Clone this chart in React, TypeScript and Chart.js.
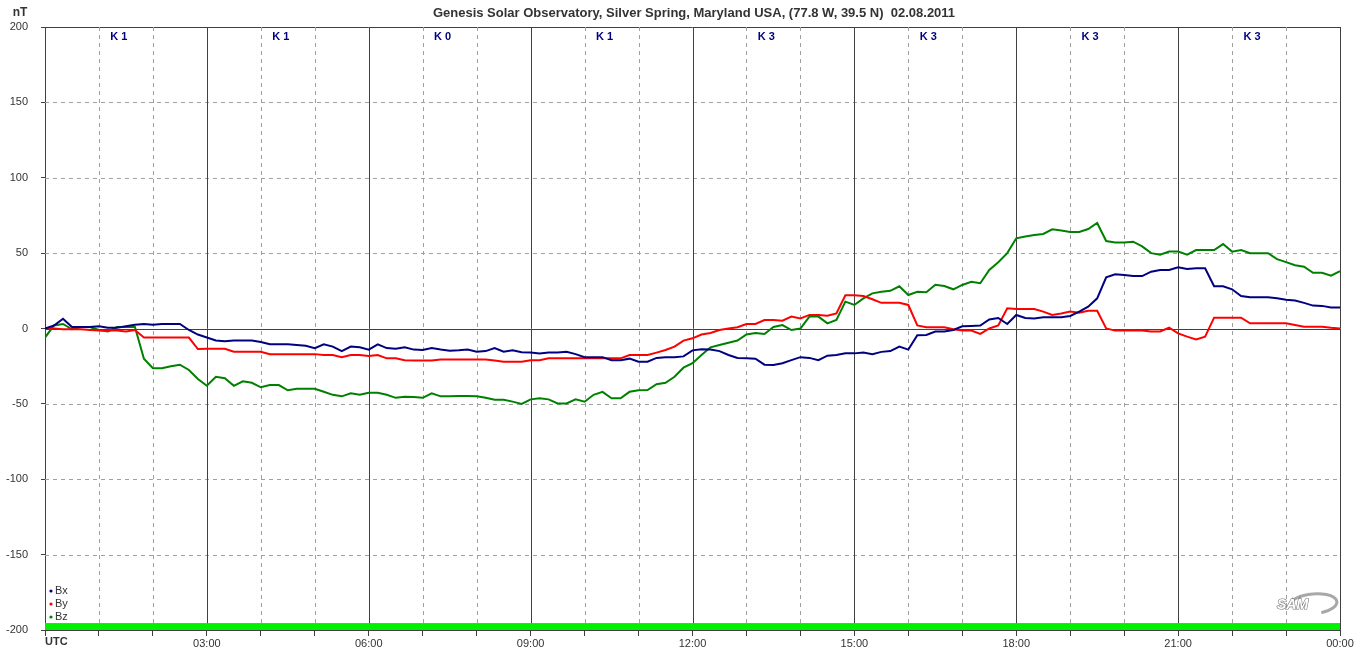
import React, { useEffect, useRef } from "react";
import { Chart, registerables } from "chart.js";

Chart.register(...registerables);

const TITLE = "Genesis Solar Observatory, Silver Spring, Maryland USA, (77.8 W, 39.5 N)  02.08.2011";
const Y_UNIT = "nT";
const K_INDEX = [1, 1, 0, 1, 3, 3, 3, 3];
const X_LABELS: Record<number, string> = { 3: "03:00", 6: "06:00", 9: "09:00", 12: "12:00", 15: "15:00", 18: "18:00", 21: "21:00", 24: "00:00" };
const SAMPLE_MINUTES = 10;

// samples every 10 minutes, 00:00 .. 24:00 (6 per hour)
const BX = [
  0, 2, 6.5, 1, 1, 1,
  1.5, 0.5, 0.5, 1.5, 2.5, 3,
  2.5, 3, 3, 3, -1, -4,
  -6, -8, -8.5, -8, -8, -8,
  -9, -10.5, -10.5, -10.5, -11, -11.5,
  -13, -10.5, -12, -15, -12, -12.5,
  -14, -10.5, -13, -13.5, -12.5, -14,
  -14.3, -13, -14, -14.7, -14.5, -14,
  -15.4, -15, -13, -15.4, -14.5, -15.8,
  -16, -16.5, -16, -16, -15.5, -17,
  -19, -19, -19, -21, -21, -20,
  -22, -22, -19.5, -19, -19, -18.5,
  -14.5, -13.8, -14, -15, -17.6, -19.5,
  -19.8, -20, -24, -24.2, -23, -21,
  -19, -19.5, -21, -18, -17.6, -16.5,
  -16.5, -16, -17, -15.5, -15, -12,
  -14, -4.5, -4.3, -2, -2, -1,
  1.5, 1.7, 2, 6, 7, 3,
  9, 7, 6.7, 7.4, 7.4, 7.5,
  8.3, 11.2, 14.5, 20, 34, 36,
  35.5, 34.8, 34.8, 37.7, 38.8, 38.8,
  40.6, 39.5, 40, 40, 28, 28,
  26, 21.5, 20.7, 20.7, 20.7, 20,
  19, 18.5, 17, 15.2, 15, 14,
  14,
];

const BY = [
  0, 0, -0.5, -0.5, -0.5, -1,
  -1.4, -1.4, -1.4, -2, -1, -6,
  -6, -6, -6, -6, -6, -13.6,
  -13.5, -13.5, -13.5, -15.4, -15.4, -15.4,
  -15.4, -17, -17, -17, -17, -17,
  -17, -17.6, -17.6, -19, -17.6, -17.6,
  -18.3, -17.6, -19.8, -19.8, -21, -21.3,
  -21.3, -21.3, -20.5, -20.5, -20.5, -20.5,
  -20.5, -20.5, -21.3, -22, -22, -22,
  -21, -21, -19.8, -19.8, -19.8, -19.8,
  -19.8, -19.8, -19.8, -19.8, -19.8, -17.6,
  -17.6, -17.6, -16, -14.3, -12, -8,
  -6.5, -4, -3, -1, 0, 0.8,
  3, 3, 5.6, 5.6, 5.2, 7.9,
  6.7, 9, 9, 8.5, 10, 22,
  22, 21.6, 19.4, 17, 17, 17,
  15.6, 2, 0.8, 0.8, 0.8, -0.5,
  -1.4, -1.4, -3.6, 0, 2, 13.4,
  12.9, 12.9, 12.9, 11.2, 9, 10,
  11.2, 10.5, 11.8, 11.8, 0.1, -1.4,
  -1.4, -1.4, -1.4, -2, -2, 0.5,
  -3.2, -5.4, -7.2, -5.4, 7.2, 7.2,
  7.2, 7.2, 3.4, 3.4, 3.4, 3.4,
  3.4, 2.3, 1.2, 1.2, 1.2, 0.5,
  0,
];

const BZ = [
  -6, 2, 3, -0.5, 1, 1,
  -1, -2, 1, 1, 1, -20,
  -26.4, -26.4, -25, -24, -27.5, -33.5,
  -38, -32, -33, -38, -35, -36,
  -39, -37.5, -37.5, -41, -40, -40,
  -40, -42, -44, -45, -43, -44,
  -42.6, -42.6, -44, -46, -45.2, -45.5,
  -46, -43, -45, -45, -44.8, -44.8,
  -45, -46, -47.3, -47.3, -48.5, -50,
  -47, -46.3, -47, -49.7, -49.7, -47,
  -48.6, -44, -42, -46.3, -46.3, -42,
  -41, -40.8, -37, -36, -32, -26,
  -23, -17.6, -12.5, -11, -9.4, -8,
  -4, -3, -3.6, 1, 2.3, -1,
  0, 7.9, 7.9, 3.4, 5.6, 17.8,
  15.6, 20, 23.3, 24.4, 25, 28,
  22.2, 24.4, 24, 29, 28.2, 26,
  28.9, 31, 30, 38.8, 44, 50,
  59.8, 61, 62, 62.7, 65.8, 65,
  64, 64, 66, 70, 58, 57,
  57, 57.6, 54.5, 50, 49, 51,
  51, 49, 52, 52, 52, 56,
  51, 52, 50, 50, 50, 46,
  44, 42, 41, 37, 37, 35,
  38,
];

const SERIES = [
  { label: "Bx", data: BX, color: "#000080" },
  { label: "By", data: BY, color: "#ff0000" },
  { label: "Bz", data: BZ, color: "#008000" },
];

const FONT = 'Arial, "Liberation Sans", sans-serif';

const decorPlugin = {
  id: "decor",
  beforeDatasetsDraw(chart: any) {
    const { ctx, chartArea: a, scales } = chart;
    const xs = scales.x;
    const ys = scales.y;
    ctx.save();
    for (let v = -150; v <= 200; v += 50) {
      const y = Math.round(ys.getPixelForValue(v)) + 0.5;
      ctx.beginPath();
      if (v === 0 || v === 200) {
        ctx.setLineDash([]);
        ctx.strokeStyle = "#404040";
      } else {
        ctx.setLineDash([4, 4]);
        ctx.strokeStyle = "#a0a0a0";
      }
      ctx.lineWidth = 1;
      ctx.moveTo(a.left, y);
      ctx.lineTo(a.right, y);
      ctx.stroke();
    }
    for (let h = 1; h <= 24; h++) {
      const x = Math.round(xs.getPixelForValue(h)) + 0.5;
      ctx.beginPath();
      if (h % 3 === 0) {
        ctx.setLineDash([]);
        ctx.strokeStyle = "#404040";
      } else {
        ctx.setLineDash([4, 4]);
        ctx.strokeStyle = "#a0a0a0";
      }
      ctx.moveTo(x, a.top);
      ctx.lineTo(x, a.bottom);
      ctx.stroke();
    }
    ctx.setLineDash([]);
    const yb = ys.getPixelForValue(-200);
    const yt = ys.getPixelForValue(-195.4);
    ctx.fillStyle = "#00f000";
    ctx.fillRect(a.left, yt, a.right - a.left, yb - yt);
    ctx.restore();
  },
  afterDatasetsDraw(chart: any) {
    const { ctx, chartArea: a, scales } = chart;
    const xs = scales.x;
    ctx.save();
    ctx.fillStyle = "#333333";
    ctx.font = `bold 13px ${FONT}`;
    ctx.textAlign = "center";
    ctx.textBaseline = "middle";
    ctx.fillText(TITLE, 694, 13);
    ctx.font = `bold 12px ${FONT}`;
    ctx.fillText(Y_UNIT, 20, 13);
    ctx.fillStyle = "#000080";
    ctx.font = `bold 11px ${FONT}`;
    K_INDEX.forEach((k, i) => {
      const x = xs.getPixelForValue(i * 3 + 1.37);
      ctx.fillText(`K ${k}`, x, a.top + 10);
    });
    ctx.fillStyle = "#333333";
    ctx.font = `bold 11px ${FONT}`;
    ctx.textAlign = "left";
    ctx.fillText("UTC", a.left, a.bottom + 12);
    ctx.font = `11px ${FONT}`;
    chart.data.datasets.forEach((ds: any, i: number) => {
      const y = a.bottom - 39 + i * 13;
      ctx.fillStyle = ds.borderColor;
      ctx.beginPath();
      ctx.arc(a.left + 6, y, 1.6, 0, Math.PI * 2);
      ctx.fill();
      ctx.fillStyle = "#333333";
      ctx.fillText(ds.label, a.left + 10, y);
    });
    const lx = a.right - 65;
    const ly = a.bottom - 26;
    ctx.strokeStyle = "#a8a8a8";
    ctx.lineWidth = 3;
    ctx.beginPath();
    ctx.ellipse(lx + 38, ly, 24, 10, -0.1, -Math.PI * 0.8, Math.PI * 0.4);
    ctx.stroke();
    ctx.font = `italic bold 14px ${FONT}`;
    ctx.fillStyle = "#ffffff";
    ctx.strokeStyle = "#777777";
    ctx.lineWidth = 1.2;
    ctx.textAlign = "left";
    ctx.strokeText("SAM", lx + 2, ly + 1);
    ctx.fillText("SAM", lx + 2, ly + 1);
    ctx.restore();
  },
};

export default function App() {
  const ref = useRef<HTMLCanvasElement | null>(null);
  useEffect(() => {
    document.body.style.margin = "0";
    const canvas = ref.current;
    if (!canvas) return;
    const times = BX.map((_, i) => (i * SAMPLE_MINUTES) / 60);
    const chart = new Chart(canvas, {
      type: "line",
      data: {
        datasets: SERIES.map((s) => ({
          label: s.label,
          data: s.data.map((v, i) => ({ x: times[i], y: v })),
          borderColor: s.color,
          backgroundColor: s.color,
          borderWidth: 2,
          pointRadius: 0,
          tension: 0,
        })),
      },
      options: {
        responsive: false,
        animation: false,
        events: [],
        layout: { padding: { left: 0, right: 20, top: 27, bottom: 0 } },
        plugins: {
          legend: { display: false },
          title: { display: false },
          tooltip: { enabled: false },
        },
        scales: {
          x: {
            type: "linear",
            min: 0,
            max: 24,
            afterBuildTicks: (s: any) => {
              s.ticks = Array.from({ length: 25 }, (_, h) => ({ value: h }));
            },
            ticks: {
              autoSkip: false,
              maxRotation: 0,
              padding: 1,
              color: "#333333",
              font: { family: FONT, size: 11 },
              callback: (v: any) => X_LABELS[Number(v)] ?? "",
            },
            grid: { drawOnChartArea: false, drawTicks: true, tickLength: 6, tickColor: "#404040" },
            border: { display: true, color: "#404040" },
            afterFit: (s: any) => {
              s.height = 27;
            },
          },
          y: {
            min: -200,
            max: 200,
            ticks: {
              stepSize: 50,
              padding: 13,
              color: "#333333",
              font: { family: FONT, size: 11 },
            },
            grid: { drawOnChartArea: false, drawTicks: true, tickLength: 4, tickColor: "#404040" },
            border: { display: true, color: "#404040" },
            afterFit: (s: any) => {
              s.width = 45;
            },
          },
        },
      },
      plugins: [decorPlugin],
    });
    return () => chart.destroy();
  }, []);
  return (
    <div style={{ width: 1360, height: 657, background: "#ffffff" }}>
      <canvas ref={ref} width={1360} height={657} style={{ display: "block" }} />
    </div>
  );
}
